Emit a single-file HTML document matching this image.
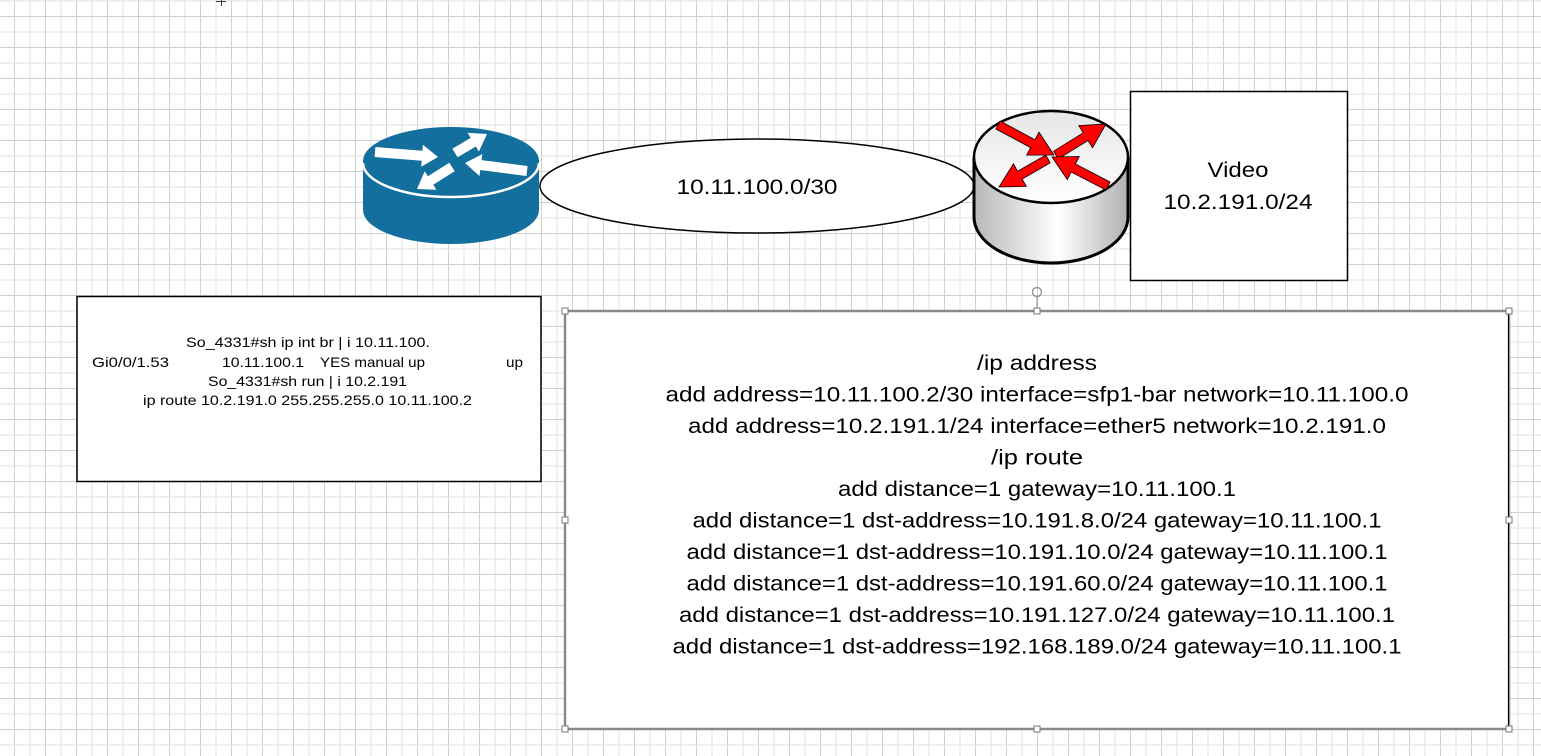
<!DOCTYPE html>
<html><head><meta charset="utf-8"><style>
html,body{margin:0;padding:0;background:#fff;overflow:hidden}
svg{display:block}
text{font-family:"Liberation Sans",sans-serif;fill:#000}
</style></head><body>
<svg id="s" width="1541" height="756" viewBox="0 0 1541 756" xmlns="http://www.w3.org/2000/svg">
<defs>
<linearGradient id="side" x1="0" x2="1" y1="0" y2="0">
<stop offset="0" stop-color="#b8b8b8"/><stop offset="0.55" stop-color="#ffffff"/><stop offset="1" stop-color="#b0b0b0"/>
</linearGradient>
<linearGradient id="top" x1="0" x2="0" y1="0" y2="1">
<stop offset="0" stop-color="#e6e6e6"/><stop offset="1" stop-color="#ffffff"/>
</linearGradient>
</defs>
<g id="grid"></g>
<g stroke="#333" stroke-width="1"><line x1="216" y1="1.5" x2="226" y2="1.5"/><line x1="221.5" y1="0" x2="221.5" y2="6"/></g>

<g>
<path d="M363,161 L363,210 A88,34 0 0 0 539,210 L539,161 Z" fill="#136f9e"/>
<ellipse cx="451" cy="161" rx="88" ry="34" fill="#136f9e"/>
<path d="M363,163 A88,34 0 0 0 539,163" fill="none" stroke="#fff" stroke-width="2.5"/>
<g id="barrows" fill="#fff"></g>
</g>

<ellipse cx="757" cy="186" rx="217" ry="47" fill="#fff" stroke="#000" stroke-width="1.5"/>
<text x="757" y="194" font-size="21" text-anchor="middle" textLength="161" lengthAdjust="spacingAndGlyphs">10.11.100.0/30</text>

<g stroke="#000" stroke-width="3">
<path d="M974,157 L974,217 A77,46 0 0 0 1128,217 L1128,157" fill="url(#side)"/>
<ellipse cx="1051" cy="157" rx="77" ry="46" fill="url(#top)" stroke-width="2.5"/>
</g>
<g id="rarrows" fill="#ff0000" stroke="#000" stroke-width="0.8"></g>

<rect x="1130.5" y="91.5" width="217" height="189" fill="#fff" stroke="#000" stroke-width="1.5"/>
<text x="1238" y="177" font-size="21" text-anchor="middle" textLength="61" lengthAdjust="spacingAndGlyphs">Video</text>
<text x="1238" y="209" font-size="21" text-anchor="middle" textLength="149" lengthAdjust="spacingAndGlyphs">10.2.191.0/24</text>

<rect x="77" y="296.5" width="464" height="185" fill="#fff" stroke="#000" stroke-width="1.5"/>
<g font-size="14">
<text x="186" y="347" textLength="244" lengthAdjust="spacingAndGlyphs">So_4331#sh ip int br | i 10.11.100.</text>
<text x="92" y="367" textLength="77" lengthAdjust="spacingAndGlyphs">Gi0/0/1.53</text>
<text x="222" y="367" textLength="82" lengthAdjust="spacingAndGlyphs">10.11.100.1</text>
<text x="320" y="367" textLength="105" lengthAdjust="spacingAndGlyphs">YES manual up</text>
<text x="506" y="367" textLength="17" lengthAdjust="spacingAndGlyphs">up</text>
<text x="208" y="386" textLength="199" lengthAdjust="spacingAndGlyphs">So_4331#sh run | i 10.2.191</text>
<text x="143" y="405" textLength="329" lengthAdjust="spacingAndGlyphs">ip route 10.2.191.0 255.255.255.0 10.11.100.2</text>
</g>

<line x1="1037" y1="297" x2="1037" y2="311" stroke="#888" stroke-width="1"/>
<circle cx="1037" cy="292" r="4.5" fill="none" stroke="#999" stroke-width="1.5"/>
<rect x="565" y="311" width="944" height="418" fill="#fff" stroke="#8a8a8a" stroke-width="2.5"/>
<line x1="1508.5" y1="312" x2="1508.5" y2="728" stroke="#000" stroke-width="1"/>
<g id="handles" fill="#fff" stroke="#777" stroke-width="1"></g>
<g font-size="21" text-anchor="middle" id="big"></g>
</svg>
<script>
var NS="http://www.w3.org/2000/svg";
function el(p,t,a){var e=document.createElementNS(NS,t);for(var k in a)e.setAttribute(k,a[k]);p.appendChild(e);return e;}
var g=document.getElementById('grid');
for(var i=0;;i++){var x=14.5+15.5*i;if(x>1541)break;el(g,'line',{x1:x,y1:0,x2:x,y2:756,stroke:i%2?'#e2e2e2':'#d0d0d0','stroke-width':1});}
for(var i=0;;i++){var y=1+15.5*i;if(y>756)break;el(g,'line',{x1:0,y1:y,x2:1541,y2:y,stroke:i%2?'#d0d0d0':'#e2e2e2','stroke-width':1});}
function arrow(p,x1,y1,x2,y2,sw,hw,hl){
var dx=x2-x1,dy=y2-y1,L=Math.sqrt(dx*dx+dy*dy),ux=dx/L,uy=dy/L,nx=-uy,ny=ux;
var bx=x2-ux*hl,by=y2-uy*hl;
var pts=[[x1+nx*sw,y1+ny*sw],[bx+nx*sw,by+ny*sw],[bx+nx*hw,by+ny*hw],[x2,y2],[bx-nx*hw,by-ny*hw],[bx-nx*sw,by-ny*sw],[x1-nx*sw,y1-ny*sw]];
el(p,'polygon',{points:pts.map(function(q){return q[0].toFixed(1)+','+q[1].toFixed(1)}).join(' ')});}
var b=document.getElementById('barrows');
arrow(b,375,152,438,157,5,11,16);
arrow(b,455,153,487,134,5,11,16);
arrow(b,527,171,465,163,5,11,16);
arrow(b,452,167,417,189,5,11,16);
var r=document.getElementById('rarrows');
arrow(r,998,125,1054,155,4.5,13,24);
arrow(r,1056,155,1106,124,4.5,13,24);
arrow(r,1048,159,999,187,4.5,13,24);
arrow(r,1108,186,1052,157,4.5,13,24);
var h=document.getElementById('handles');
[[565,311],[1037,311],[1509,311],[565,520],[1509,520],[565,729],[1037,729],[1509,729]].forEach(function(q){el(h,'rect',{x:q[0]-3,y:q[1]-3,width:6,height:6});});
var lines=[["/ip address",120],["add address=10.11.100.2/30 interface=sfp1-bar network=10.11.100.0",743],["add address=10.2.191.1/24 interface=ether5 network=10.2.191.0",698],["/ip route",92],["add distance=1 gateway=10.11.100.1",398],["add distance=1 dst-address=10.191.8.0/24 gateway=10.11.100.1",689],["add distance=1 dst-address=10.191.10.0/24 gateway=10.11.100.1",701],["add distance=1 dst-address=10.191.60.0/24 gateway=10.11.100.1",701],["add distance=1 dst-address=10.191.127.0/24 gateway=10.11.100.1",716],["add distance=1 dst-address=192.168.189.0/24 gateway=10.11.100.1",729]];
var bg=document.getElementById('big');
lines.forEach(function(l,i){var t=el(bg,'text',{x:1037,y:370+31.5*i,textLength:l[1],lengthAdjust:'spacingAndGlyphs'});t.textContent=l[0];});
</script>
</body></html>
